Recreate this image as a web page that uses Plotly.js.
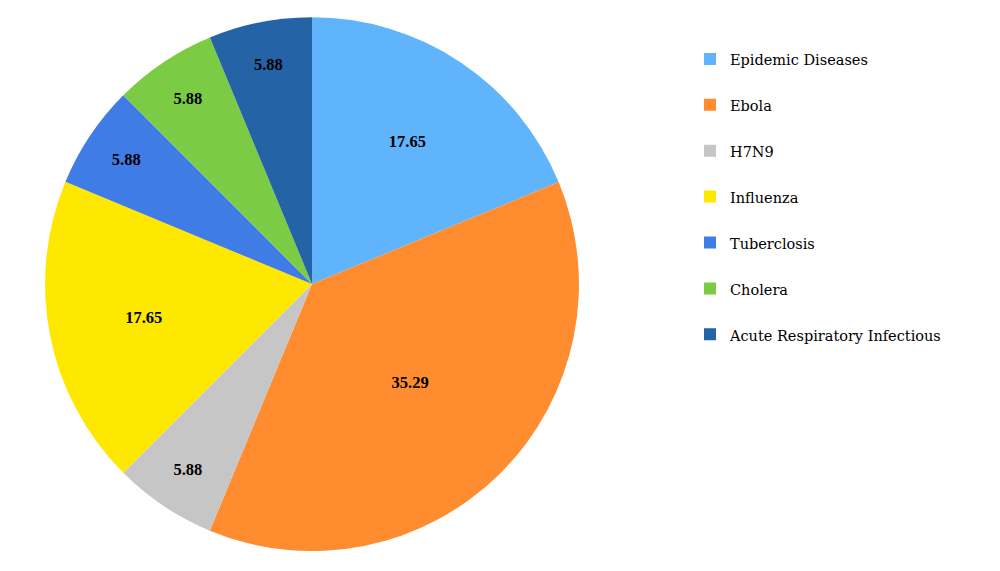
<!DOCTYPE html>
<html>
<head>
<meta charset="utf-8">
<script src="https://cdn.plot.ly/plotly-3.0.1.min.js"></script>
<style>html,body{margin:0;padding:0;background:#fff;}#chart{width:1000px;height:571px;}</style>
</head>
<body>
<div id="chart"></div>
<script>
const categories = ["Epidemic Diseases", "Ebola", "H7N9", "Influenza", "Tuberclosis", "Cholera", "Acute Respiratory Infectious"];
const values = [17.65, 35.29, 5.88, 17.65, 5.88, 5.88, 5.88];
const colors = ["#5FB4FC", "#FF8C2E", "#C6C6C6", "#FFE800", "#3F7CE6", "#7CCB44", "#2363A6"];

const legendLabels = categories.map(c => '<span style="font-family:\'DejaVu Serif\';font-size:14.5px">' + c + '</span><br> ');

const trace = {
  type: "pie",
  labels: legendLabels,
  values: values,
  text: values.map(v => v.toFixed(2)),
  texttemplate: "<b>%{text}</b>",
  textinfo: "text",
  textposition: "inside",
  insidetextorientation: "horizontal",
  textfont: {family: "Liberation Serif", size: 16.5, color: "#000"},
  marker: {colors: colors, line: {width: 0}},
  sort: false,
  direction: "clockwise",
  rotation: 0,
  hoverinfo: "none",
  domain: {x: [0.044, 0.58], y: [0.035, 0.970]}
};

const layout = {
  width: 1000,
  height: 571,
  margin: {l: 0, r: 0, t: 0, b: 0},
  paper_bgcolor: "#fff",
  showlegend: true,
  legend: {
    x: 0.69, y: 0.927, xanchor: "left", yanchor: "top",
    valign: "top",
    font: {family: "Liberation Serif", size: 16.5, color: "#000"},
    bgcolor: "rgba(0,0,0,0)"
  }
};

Plotly.newPlot("chart", [trace], layout, {displayModeBar: false, staticPlot: true});
</script>
</body>
</html>
